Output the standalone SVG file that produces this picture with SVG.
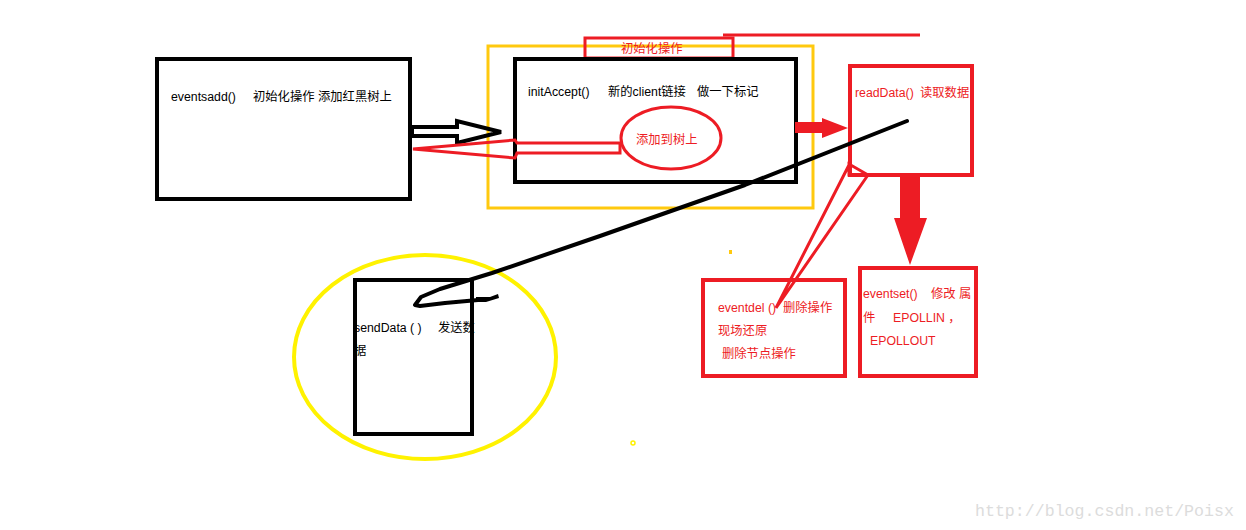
<svg xmlns="http://www.w3.org/2000/svg" width="1246" height="530" viewBox="0 0 1246 530">
<style>
text{font-family:"Liberation Sans","Noto Sans CJK SC",sans-serif;font-size:12.3px;white-space:pre}
.k{fill:#000}
.r{fill:#ED1C24}
.bk{fill:none;stroke:#000;stroke-width:4}
.rd{fill:none;stroke:#ED1C24;stroke-width:4}
.rd3{fill:none;stroke:#ED1C24;stroke-width:3}
.yo{fill:none;stroke:#FFC90E;stroke-width:3}
.yl{fill:none;stroke:#FFF200;stroke-width:4}
</style>
<rect width="1246" height="530" fill="#fff"/>
<g id="init-group">
<rect class="yo" x="488" y="46" width="325" height="162"/>
<rect class="rd3" x="585" y="38" width="148" height="20"/>
<text class="r" x="621" y="53">初始化操作</text>
<line x1="723" y1="35" x2="920" y2="35" stroke="#ED1C24" stroke-width="3"/>
</g>
<g id="eventsadd">
<rect class="bk" x="157" y="59" width="253" height="140"/>
<text class="k" x="171" y="101">eventsadd()<tspan x="253">初始化操作</tspan><tspan x="318">添加红黑树上</tspan></text>
</g>
<g id="initAccept">
<rect class="bk" x="515" y="59" width="281" height="123"/>
<text class="k" x="528" y="96">initAccept()<tspan x="608">新的client链接</tspan><tspan x="697">做一下标记</tspan></text>
</g>
<g id="addToTree">
<ellipse class="rd3" cx="671" cy="138" rx="50" ry="31"/>
<text class="r" x="636" y="144">添加到树上</text>
</g>
<g id="readData">
<rect class="rd" x="850" y="66" width="122" height="109"/>
<text class="r" x="855" y="97">readData()<tspan x="920">读取数据</tspan></text>
</g>
<g id="eventdel">
<rect class="rd" x="703" y="280" width="142" height="96"/>
<text class="r" x="718" y="312">eventdel ()<tspan x="783">删除操作</tspan></text>
<text class="r" x="718" y="335">现场还原</text>
<text class="r" x="722" y="358">删除节点操作</text>
</g>
<g id="eventset">
<rect class="rd" x="860" y="268" width="116" height="108"/>
<text class="r" x="863" y="298">eventset()<tspan x="931">修改 属</tspan></text>
<text class="r" x="863" y="322">件<tspan x="893">EPOLLIN ，</tspan></text>
<text class="r" x="870" y="345">EPOLLOUT</text>
</g>
<g id="sendData">
<ellipse class="yl" cx="425" cy="357" rx="131" ry="102"/>
<rect class="bk" x="355" y="280" width="117" height="154"/>
<text class="k" x="354" y="332">sendData ( )<tspan x="438">发送数</tspan></text>
<text class="k" x="354" y="355">据</text>
</g>
<g id="connectors">
<polygon class="bk" points="412,127 457,127 457,121 501,132 457,143 457,136 412,136"/>
<polygon class="rd3" points="620,143 517,143 515,140 413,149 515,158 517,153 620,153"/>
<polygon class="r" points="795,122 822,122 822,118 848,128 822,138 822,133 795,133"/>
<polygon class="r" points="900,175 920,175 920,218 927,218 910,265 894,218 900,218"/>
<path class="rd3" d="M849,165 L776,308 L868,175 M849,164 L849,175 L868,175 Z"/>
<path d="M907,121 L745,185 L600,236 L492,273 L440,289 L421,297 L415,305 L420,306 L445,303 L478,300" fill="none" stroke="#000" stroke-width="4" stroke-linejoin="round" stroke-linecap="round"/>
<polygon points="476,297 490,297 498,294 499,298 486,302 476,302" fill="#000"/>
</g>
<rect x="729" y="250" width="3" height="4" fill="#FFC90E"/>
<circle cx="633" cy="443" r="2" fill="none" stroke="#FFF200" stroke-width="1.5"/>
<text x="975" y="516" style="font-family:'Liberation Mono',monospace;font-size:16.6px;fill:#dcdcdc">http://blog.csdn.net/Poisx</text>
</svg>
